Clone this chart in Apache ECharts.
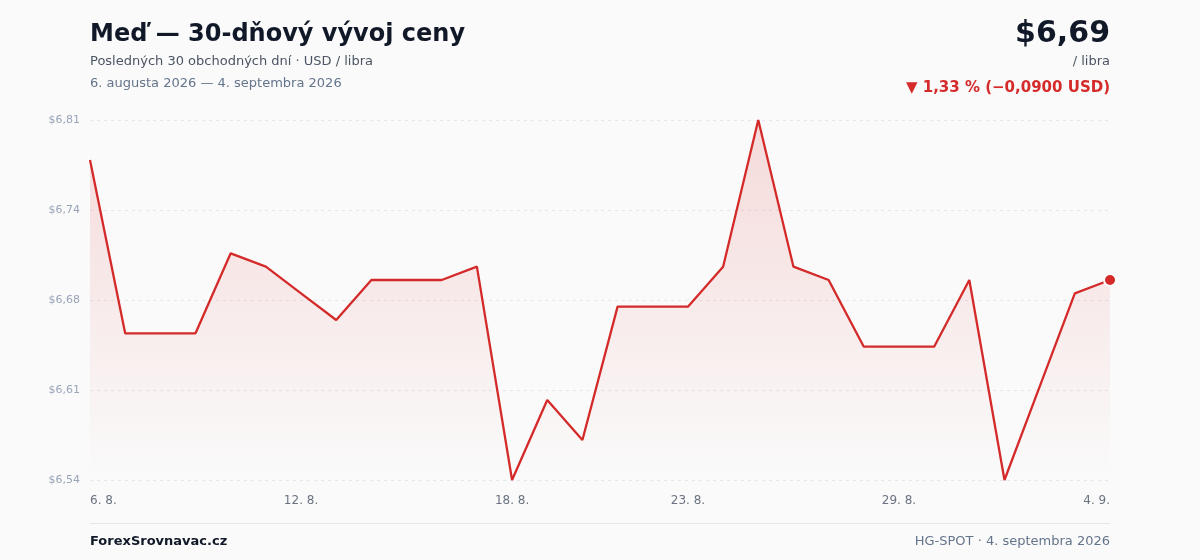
<!DOCTYPE html>
<html>
<head>
<meta charset="utf-8">
<script src="https://cdn.jsdelivr.net/npm/echarts@6/dist/echarts.min.js"></script>
<style>
  html, body { margin: 0; padding: 0; background: #fafafa; }
  #chart { width: 1200px; height: 560px; }
</style>
</head>
<body>
<div id="chart"></div>
<script>
const dates = ['6. 8.','7. 8.','8. 8.','9. 8.','10. 8.','11. 8.','12. 8.','13. 8.','14. 8.','15. 8.',
  '16. 8.','17. 8.','18. 8.','19. 8.','20. 8.','21. 8.','22. 8.','23. 8.','24. 8.','25. 8.',
  '26. 8.','27. 8.','28. 8.','29. 8.','30. 8.','31. 8.','1. 9.','2. 9.','3. 9.','4. 9.'];
const prices = [6.78,6.65,6.65,6.65,6.71,6.70,6.68,6.66,6.69,6.69,
  6.69,6.70,6.54,6.60,6.57,6.67,6.67,6.67,6.70,6.81,
  6.70,6.69,6.64,6.64,6.64,6.69,6.54,6.61,6.68,6.69];
const shownDateLabels = ['6. 8.','12. 8.','18. 8.','23. 8.','29. 8.','4. 9.'];
const yTickValues = [6.54, 6.6075, 6.675, 6.7425, 6.81];

const BASE = yTickValues[0];
const STEP = yTickValues[1] - yTickValues[0];
const fmt = v => '$' + (Math.round(v * 100 + 1e-6) / 100).toFixed(2).replace('.', ',');
const RED = '#d42a2a';
const FONT = '"DejaVu Sans", sans-serif';

const chart = echarts.init(document.getElementById('chart'), null, { renderer: 'canvas' });
const lastIdx = prices.length - 1;

chart.setOption({
  backgroundColor: '#fafafa',
  animation: false,
  textStyle: { fontFamily: FONT },
  grid: { left: 90, right: 90, top: 120, bottom: 80, containLabel: false },
  xAxis: {
    type: 'category',
    data: dates,
    boundaryGap: false,
    axisLine: { show: false },
    axisTick: { show: false },
    splitLine: { show: false },
    axisLabel: {
      interval: (i, v) => shownDateLabels.includes(v),
      color: '#6b7280',
      fontSize: 12,
      fontFamily: FONT,
      margin: 15,
      alignMinLabel: 'left',
      alignMaxLabel: 'right'
    }
  },
  yAxis: {
    type: 'value',
    min: 0,
    max: +(yTickValues[yTickValues.length - 1] - BASE).toFixed(6),
    interval: +STEP.toFixed(6),
    axisLine: { show: false },
    axisTick: { show: false },
    axisLabel: {
      color: '#9aa4b8',
      fontSize: 11,
      fontFamily: FONT,
      margin: 10,
      formatter: v => fmt(v + BASE)
    },
    splitLine: { lineStyle: { color: '#e4e6ea', type: [3, 4], width: 1 } }
  },
  series: [
    {
      type: 'line',
      data: prices.map(p => +(p - BASE).toFixed(6)),
      showSymbol: false,
      lineStyle: { color: RED, width: 2.3 },
      itemStyle: { color: RED },
      areaStyle: {
        color: new echarts.graphic.LinearGradient(0, 0, 0, 1, [
          { offset: 0, color: 'rgba(220,40,40,0.22)' },
          { offset: 0.9, color: 'rgba(220,40,40,0.02)' },
          { offset: 1, color: 'rgba(220,40,40,0.0)' }
        ])
      },
      z: 2
    },
    {
      type: 'scatter',
      data: [[lastIdx, +(prices[lastIdx] - BASE).toFixed(6)]],
      symbol: 'circle',
      symbolSize: 12,
      itemStyle: { color: RED, borderColor: '#ffffff', borderWidth: 2, opacity: 1 },
      z: 3
    }
  ],
  graphic: [
    { type: 'text', left: 90, top: 23, style: { text: 'Meď — 30-dňový vývoj ceny', font: 'bold 24px ' + FONT, fill: '#111827' } },
    { type: 'text', left: 90, top: 55, style: { text: 'Posledných 30 obchodných dní · USD / libra', font: '13px ' + FONT, fill: '#4b5563' } },
    { type: 'text', left: 90, top: 77, style: { text: '6. augusta 2026 — 4. septembra 2026', font: '13px ' + FONT, fill: '#64748b' } },
    { type: 'text', right: 90, top: 19, style: { text: fmt(prices[lastIdx]), font: 'bold 30px ' + FONT, fill: '#111827' } },
    { type: 'text', right: 90, top: 55, style: { text: '/ libra', font: '13px ' + FONT, fill: '#4b5563' } },
    { type: 'text', right: 90, top: 81, style: { text: '▼ 1,33 % (−0,0900 USD)', font: 'bold 15px ' + FONT, fill: RED } },
    { type: 'line', shape: { x1: 90, y1: 523.5, x2: 1110, y2: 523.5 }, style: { stroke: '#e5e7eb', lineWidth: 1 } },
    { type: 'text', left: 90, top: 535, style: { text: 'ForexSrovnavac.cz', font: 'bold 13px ' + FONT, fill: '#111827' } },
    { type: 'text', right: 90, top: 535, style: { text: 'HG-SPOT · 4. septembra 2026', font: '13px ' + FONT, fill: '#64748b' } }
  ]
});
</script>
</body>
</html>
